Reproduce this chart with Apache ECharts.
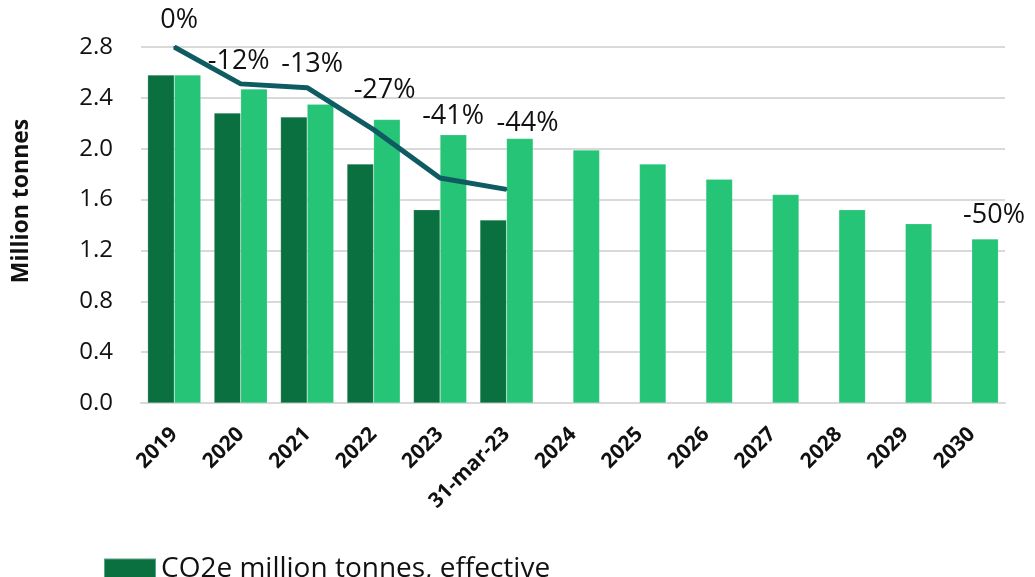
<!DOCTYPE html>
<html>
<head>
<meta charset="utf-8">
<script src="https://cdn.jsdelivr.net/npm/echarts@6/dist/echarts.min.js"></script>
<style>
html,body{margin:0;padding:0;background:#fff;}
#chart{width:1035px;height:577px;}
</style>
</head>
<body>
<div id="chart"></div>
<script>
var categories = ['2019','2020','2021','2022','2023','31-mar-23','2024','2025','2026','2027','2028','2029','2030'];
var effective = [2.58, 2.28, 2.25, 1.88, 1.52, 1.44, null, null, null, null, null, null, null];
var target = [2.58, 2.47, 2.35, 2.23, 2.11, 2.08, 1.99, 1.88, 1.76, 1.64, 1.52, 1.41, 1.29];
var reduction = [2.80, 2.51, 2.48, 2.15, 1.77, 1.68, null, null, null, null, null, null, null];
var reductionLabels = ['0%', '-12%', '-13%', '-27%', '-41%', '-44%'];
var finalLabel = '-50%';
var yTicks = [0, 0.4, 0.8, 1.2, 1.6, 2.0, 2.4, 2.8];

var FONT = "'Open Sans', sans-serif";
var PCT_SIZE = 27;
var labelOffsets = [[5,-27],[-2,-23],[5,-23],[11,-39],[13,-62],[21,-66]];

var lineData = reduction.map(function(v, i){
  if (v === null) return null;
  return {value: v, label: {show: true, position: 'inside', offset: labelOffsets[i], formatter: reductionLabels[i]}};
});
var targetData = target.map(function(v, i){
  if (i === target.length - 1) {
    return {value: v, label: {show: true, position: 'top', offset: [9, -5], formatter: finalLabel,
      fontSize: PCT_SIZE, color: '#111', fontFamily: FONT}};
  }
  return v;
});

var chart = echarts.init(document.getElementById('chart'));
chart.setOption({
  animation: false,
  textStyle: {fontFamily: FONT},
  grid: {left: 141, right: 30, top: 47, bottom: 174},
  legend: {
    data: ['CO2e million tonnes, effective'],
    left: 98, top: 550,
    itemWidth: 52, itemHeight: 21, itemGap: 4,
    textStyle: {fontSize: 28, color: '#111', fontFamily: FONT},
    icon: 'rect'
  },
  xAxis: {
    type: 'category',
    data: categories,
    axisLine: {lineStyle: {color: '#d9d9d9', width: 2}},
    axisTick: {show: false},
    axisLabel: {rotate: 45, margin: 28, fontSize: 21, fontWeight: 'bold', color: '#111', interval: 0}
  },
  yAxis: {
    type: 'value',
    min: 0, max: 2.8, interval: 0.4,
    name: 'Million tonnes',
    nameLocation: 'middle',
    nameGap: 108,
    nameRotate: 90,
    nameTextStyle: {fontSize: 23, fontWeight: 'bold', color: '#111', padding: [0, 0, 0, 48]},
    axisLine: {show: false},
    axisTick: {show: false},
    splitLine: {lineStyle: {color: '#d9d9d9', width: 2}},
    axisLabel: {fontSize: 24, color: '#111', margin: 28,
      formatter: function(v){ return v.toFixed(1); }}
  },
  series: [
    {
      name: 'CO2e million tonnes, effective',
      type: 'bar',
      data: effective,
      barGap: '0%',
      barCategoryGap: '20%',
      itemStyle: {color: '#0b7040', borderColor: 'rgba(255,255,255,0.35)', borderWidth: 0.5}
    },
    {
      name: 'CO2e million tonnes, target',
      type: 'bar',
      data: targetData,
      barGap: '0%',
      barCategoryGap: '20%',
      itemStyle: {color: '#25c476', borderColor: 'rgba(255,255,255,0.35)', borderWidth: 0.5}
    },
    {
      name: 'Reduction',
      type: 'line',
      data: lineData,
      symbol: 'circle',
      symbolSize: 2,
      showSymbol: true,
      itemStyle: {color: '#0e5b62'},
      connectNulls: false,
      lineStyle: {color: '#0e5b62', width: 5},
      label: {show: true, fontSize: PCT_SIZE, color: '#111', fontFamily: FONT},
      z: 5
    }
  ]
});
</script>
</body>
</html>
